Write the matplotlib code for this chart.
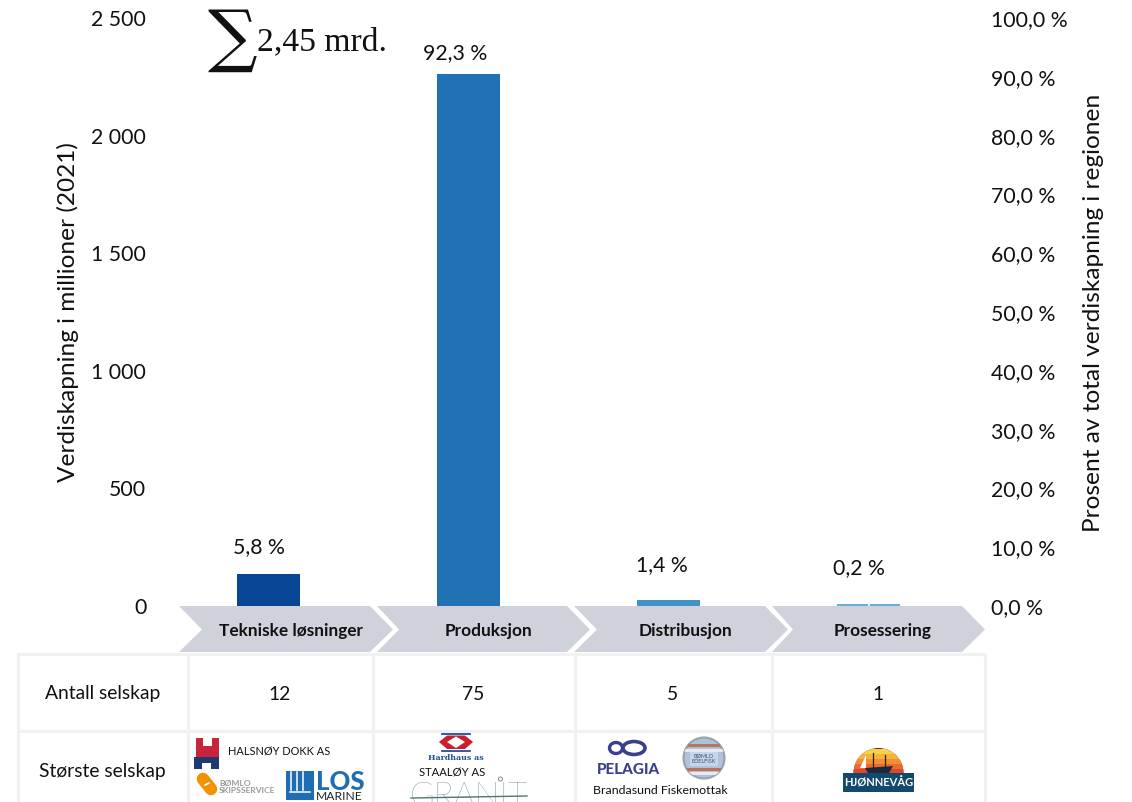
import matplotlib
matplotlib.use("Agg")
import matplotlib.pyplot as plt
from matplotlib.patches import Polygon, Circle, Rectangle, Wedge, Ellipse

W, H = 1132, 802
categories = ["Tekniske løsninger", "Produksjon", "Distribusjon", "Prosessering"]
values = [136, 2262, 26, 7]
shares = ["5,8 %", "92,3 %", "1,4 %", "0,2 %"]
company_counts = ["12", "75", "5", "1"]
bar_colors = ["#084594", "#2171B5", "#4292C6", "#6BAED6"]
left_ticks = [0, 500, 1000, 1500, 2000, 2500]
left_labels = ["0", "500", "1 000", "1 500", "2 000", "2 500"]
right_ticks = [0, 10, 20, 30, 40, 50, 60, 70, 80, 90, 100]
right_labels = ["0,0 %", "10,0 %", "20,0 %", "30,0 %", "40,0 %", "50,0 %",
                "60,0 %", "70,0 %", "80,0 %", "90,0 %", "100,0 %"]

plt.rcParams["font.family"] = ["Lato", "DejaVu Sans"]
FS = 15.3
TXT = "#111111"
fig = plt.figure(figsize=(W / 100, H / 100), dpi=100)
ax = fig.add_axes([168.5 / W, 1 - 606 / H, 800 / W, 588 / H])
xs = list(range(len(categories)))
ax.bar(xs, values, width=0.315, color=bar_colors)
ax.vlines(xs[3], 0, values[3], color="white", lw=1.2)
ax.set_xlim(-0.5, 3.5)
ax.set_ylim(0, 2500)
ax.set_xticks([])
ax.set_yticks(left_ticks, left_labels, fontsize=FS, color=TXT)
ax.tick_params(axis="y", length=0, pad=16)
for s in ax.spines.values():
    s.set_visible(False)
ax2 = ax.twinx()
ax2.set_ylim(0, 100)
ax2.set_yticks(right_ticks, right_labels, fontsize=FS, color=TXT)
ax2.tick_params(axis="y", length=0, pad=16)
for s in ax2.spines.values():
    s.set_visible(False)

label_offsets = [(-10, 27), (-13, 21), (-7, 35), (-10, 36)]
for x, v, s, (dx, dy) in zip(xs, values, shares, label_offsets):
    ax2.annotate(s, (x, v / 25), xytext=(dx * 0.72, dy * 0.72), textcoords="offset points",
                 ha="center", va="center", fontsize=FS, color=TXT)

ov = fig.add_axes([0, 0, 1, 1], zorder=5)
ov.set_xlim(0, W)
ov.set_ylim(H, 0)
ov.axis("off")
ov.patch.set_alpha(0)

ov.text(68, 312, "Verdiskapning i millioner (2021)", rotation=90, ha="center", va="center",
        fontsize=17.6, color=TXT)
ov.text(1094, 313, "Prosent av total verdiskapning i regionen", rotation=90, ha="center",
        va="center", fontsize=17.6, color=TXT)

# Sum annotation
ov.text(207, 59, "∑", fontsize=50, family="DejaVu Serif", color="#111111", ha="left", va="baseline")
ov.text(257, 50, "2,45 mrd.", fontsize=24.2, family="Liberation Serif", color="#111111",
        ha="left", va="baseline")

# Chevrons
chev = [(179, 202, 370, 393), (377, 399, 567, 590), (574, 597, 765, 788), (772, 793, 962, 985)]
label_x = [291, 488, 686, 883]
for (a, n, e, t), name, lx in zip(chev, categories, label_x):
    ov.add_patch(Polygon([(a, 606), (e, 606), (t, 629.5), (e, 652), (a, 652), (n, 629.5)],
                         closed=True, fc="#D0D2DB", ec="none"))
    ov.text(lx, 631, name, ha="center", va="center", fontsize=12.4, fontweight="bold", color=TXT)

# Table grid
GRID = "#F1F1F1"
for x in [18, 188, 373, 574.5, 772, 985]:
    ov.plot([x, x], [653, 802], color=GRID, lw=2.2, solid_capstyle="butt")
for y in [653.5, 731]:
    ov.plot([18, 985], [y, y], color=GRID, lw=2.2, solid_capstyle="butt")

ov.text(102.5, 694, "Antall selskap", ha="center", va="center", fontsize=13.9, color=TXT)
ov.text(102.5, 772, "Største selskap", ha="center", va="center", fontsize=13.9, color=TXT)
for x, c in zip([280, 473, 673, 878], company_counts):
    ov.text(x, 694, c, ha="center", va="center", fontsize=13.9, color=TXT)

# --- Logo stand-ins ---
# Halsnøy Dokk
ov.add_patch(Rectangle((196, 738), 22.5, 19, fc="#C8243C", ec="none"))
ov.add_patch(Rectangle((203, 738), 8.5, 8, fc="white", ec="none"))
ov.add_patch(Rectangle((194, 757), 25, 12, fc="#1F3A70", ec="none"))
ov.add_patch(Rectangle((202, 763), 9, 6, fc="white", ec="none"))
ov.text(228, 751, "HALSNØY DOKK AS", ha="left", va="center", fontsize=7.95, color=TXT)
# Bømlo Skipsservice
ov.plot([203, 211], [779, 789], color="#F39200", lw=9, solid_capstyle="round")
ov.plot([205, 209], [785, 783], color="white", lw=1.2)
ov.text(219, 782.5, "BØMLO", ha="left", va="center", fontsize=6.1, fontweight="bold", color="#9A9A9A")
ov.text(219, 790.5, "SKIPSSERVICE", ha="left", va="center", fontsize=6.1, fontweight="bold", color="#9A9A9A")
# Los Marine
ov.add_patch(Rectangle((286, 771), 28, 29, fc="#1F6DB5", ec="none"))
for x in [291, 297, 303]:
    ov.plot([x, x], [772, 790], color="white", lw=1.1)
ov.plot([290, 310], [792, 792], color="white", lw=1.1)
ov.text(315.5, 781.5, "LOS", ha="left", va="center", fontsize=18.5, fontweight="black", color="#1F6DB5")
ov.text(316, 796, "MARINE", ha="left", va="center", fontsize=8.7, color="#222222")
# Hardhaus
ov.add_patch(Rectangle((421, 728), 73, 5, fc="white", ec="none"))
ov.plot([442, 470], [733.5, 733.5], color="#1F4E9A", lw=1.3)
ov.plot([442, 470], [750.5, 750.5], color="#1F4E9A", lw=1.3)
ov.add_patch(Polygon([(439, 742), (447, 735.5), (465, 735.5), (473, 742), (465, 749), (447, 749)],
                     fc="#C8202F", ec="none"))
ov.add_patch(Polygon([(447, 742), (456, 736.5), (465, 742), (456, 748)], fc="white", ec="none"))
ov.text(456, 758, "Hardhaus as", ha="center", va="center", fontsize=5.7, family="DejaVu Serif",
        fontweight="bold", color="#1F4E9A")
ov.text(452, 772, "STAALØY AS", ha="center", va="center", fontsize=8.1, color=TXT)
# Granit
ov.text(469, 797, "GRANIT", ha="center", va="center", fontsize=24, color="#4F7474", fontweight="light")
ov.plot([411, 527], [798, 796], color="#4F7474", lw=1)
ov.add_patch(Circle((500.5, 779), 2, fc="none", ec="#888888", lw=0.7))
# Pelagia
ov.add_patch(Ellipse((616, 748), 13, 11, fc="none", ec="#3B3F8F", lw=2.4))
ov.add_patch(Ellipse((634, 748), 22, 13, fc="none", ec="#3B3F8F", lw=2.6))
ov.text(628, 770, "PELAGIA", ha="center", va="center", fontsize=11, fontweight="black", color="#3B3F8F")
ov.text(660.5, 790, "Brandasund Fiskemottak", ha="center", va="center", fontsize=8.95, color=TXT)
# Edelfisk
disc = Circle((704, 758), 20.5, fc="#AFC2DA", ec="#9AA3AD", lw=1.5)
ov.add_patch(disc)
for y0, c in [(744, "#B5785F"), (749, "#E8E8EE"), (768, "#C0705A"), (772, "#E8E8EE")]:
    band = Rectangle((683, y0), 42, 3, fc=c, ec="none")
    ov.add_patch(band)
    band.set_clip_path(disc)
ov.add_patch(Rectangle((690, 752), 28, 14, fc="#C7D5E6", ec="none"))
ov.text(704, 755.5, "BØMLO", ha="center", va="center", fontsize=4, color="#33507A")
ov.text(704, 761.5, "EDELFISK", ha="center", va="center", fontsize=4, color="#33507A")
# Hjønnevåg
dome = Wedge((878.5, 773), 25, 180, 360, fc="#7A1F1F", ec="none")
ov.add_patch(dome)
for i, c in enumerate(["#F6D24A", "#F6B23C", "#F28E33", "#EC6A30", "#E0452F"]):
    strip = Rectangle((853, 749 + i * 5), 51, 5.2, fc=c, ec="none")
    ov.add_patch(strip)
    strip.set_clip_path(dome)
ov.plot([873, 873], [753, 770], color="#222222", lw=0.9)
ov.plot([885, 885], [755, 770], color="#222222", lw=0.9)
ov.add_patch(Polygon([(866, 755), (866, 768), (860, 768)], fc="white", ec="none"))
ov.add_patch(Polygon([(865, 768), (893, 766), (889, 773), (868, 773)], fc="#1A2A3A", ec="none"))
ov.add_patch(Rectangle((843, 773), 71, 19, fc="#14496E", ec="none"))
ov.text(878.5, 783, "HJØNNEVÅG", ha="center", va="center", fontsize=8, fontweight="bold", color="white")

fig.savefig("out.png", dpi=100)
